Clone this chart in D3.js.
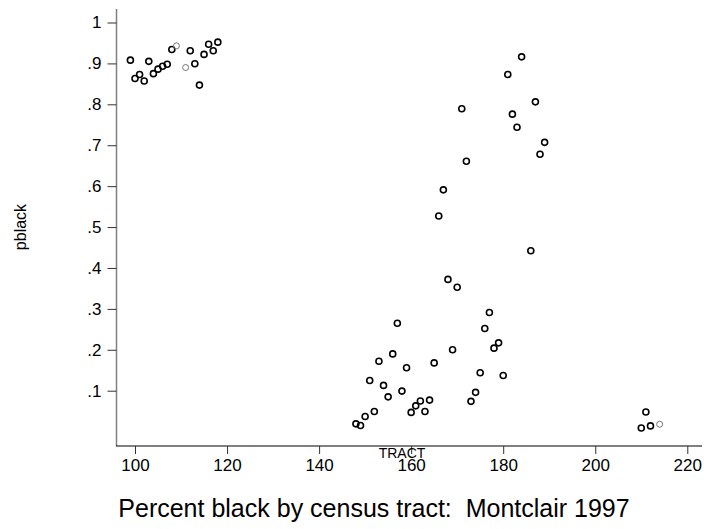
<!DOCTYPE html>
<html><head><meta charset="utf-8">
<script src="https://cdn.jsdelivr.net/npm/d3@7"></script>
<style>body{margin:0;background:#fff}svg{display:block}text{font-family:"Liberation Sans",Arial,sans-serif}</style>
</head><body>
<svg id="c" width="704" height="529"></svg>
<script>
const tract = [99,100,101,102,103,104,105,106,107,108,109,111,112,113,114,115,116,117,118,
  148,149,150,151,152,153,154,155,156,157,158,159,160,161,162,163,164,165,166,167,168,169,170,171,172,173,174,175,176,177,178,179,180,181,182,183,184,186,187,188,189,
  210,211,212,214];
const pblack = [0.908,0.863,0.873,0.857,0.905,0.875,0.886,0.893,0.898,0.934,0.943,0.890,0.931,0.899,0.847,0.922,0.947,0.931,0.952,
  0.019,0.015,0.037,0.125,0.049,0.172,0.113,0.085,0.190,0.265,0.099,0.156,0.047,0.063,0.075,0.049,0.077,0.168,0.527,0.591,0.372,0.200,0.353,0.789,0.661,0.074,0.096,0.144,0.252,0.291,0.204,0.217,0.137,0.873,0.776,0.744,0.916,0.442,0.806,0.678,0.707,
  0.009,0.048,0.014,0.018];
const lightTracts = [109,111,214];
const xTicks = [100,120,140,160,180,200,220];
const yTicks = [0.1,0.2,0.3,0.4,0.5,0.6,0.7,0.8,0.9,1];
const yTickLabels = [".1",".2",".3",".4",".5",".6",".7",".8",".9","1"];

const svg = d3.select("#c");
const x = d3.scaleLinear().domain([100,220]).range([135,687.3]);
const y = d3.scaleLinear().domain([0.1,1]).range([390.7,22.5]);
const x0 = 116.5, y0 = 446, xEnd = 702, yTop = 9;

svg.append("line").attr("x1",x0).attr("x2",x0).attr("y1",yTop).attr("y2",y0).attr("stroke","#808080").attr("stroke-width",1.5);
svg.append("line").attr("x1",x0-0.5).attr("x2",xEnd).attr("y1",y0).attr("y2",y0).attr("stroke","#000").attr("stroke-width",1);

const yAx = svg.append("g").attr("transform",`translate(${x0},0)`)
  .call(d3.axisLeft(y).tickValues(yTicks).tickFormat((d,i)=>yTickLabels[i]).tickSize(9).tickPadding(6));
yAx.select(".domain").remove();
yAx.selectAll("line").attr("stroke","#333").attr("stroke-width",1);
yAx.selectAll("text").attr("font-size",17).attr("fill","#000").attr("font-family","Liberation Sans, Arial, sans-serif");

const xAx = svg.append("g").attr("transform",`translate(0,${y0})`)
  .call(d3.axisBottom(x).tickValues(xTicks).tickFormat(d3.format("d")).tickSize(8).tickPadding(5));
xAx.select(".domain").remove();
xAx.selectAll("line").attr("stroke","#333").attr("stroke-width",1);
xAx.selectAll("text").attr("font-size",17).attr("fill","#000").attr("font-family","Liberation Sans, Arial, sans-serif");

svg.append("text").attr("x",402).attr("y",458).attr("text-anchor","middle").attr("font-size",14).text("TRACT");
svg.append("text").attr("transform","translate(26,227) rotate(-90)").attr("text-anchor","middle").attr("font-size",16).text("pblack");
svg.append("text").attr("x",374).attr("y",517).attr("text-anchor","middle").attr("font-size",25).style("white-space","pre").text("Percent black by census tract:  Montclair 1997");

svg.append("g").selectAll("circle").data(tract.map((t,i)=>({t,v:pblack[i]}))).join("circle")
  .attr("cx",d=>x(d.t)).attr("cy",d=>y(d.v)).attr("r",3)
  .attr("fill","none")
  .attr("stroke",d=>lightTracts.includes(d.t)?"#777":"#000")
  .attr("stroke-width",d=>lightTracts.includes(d.t)?1:1.6);
</script>
</body></html>
